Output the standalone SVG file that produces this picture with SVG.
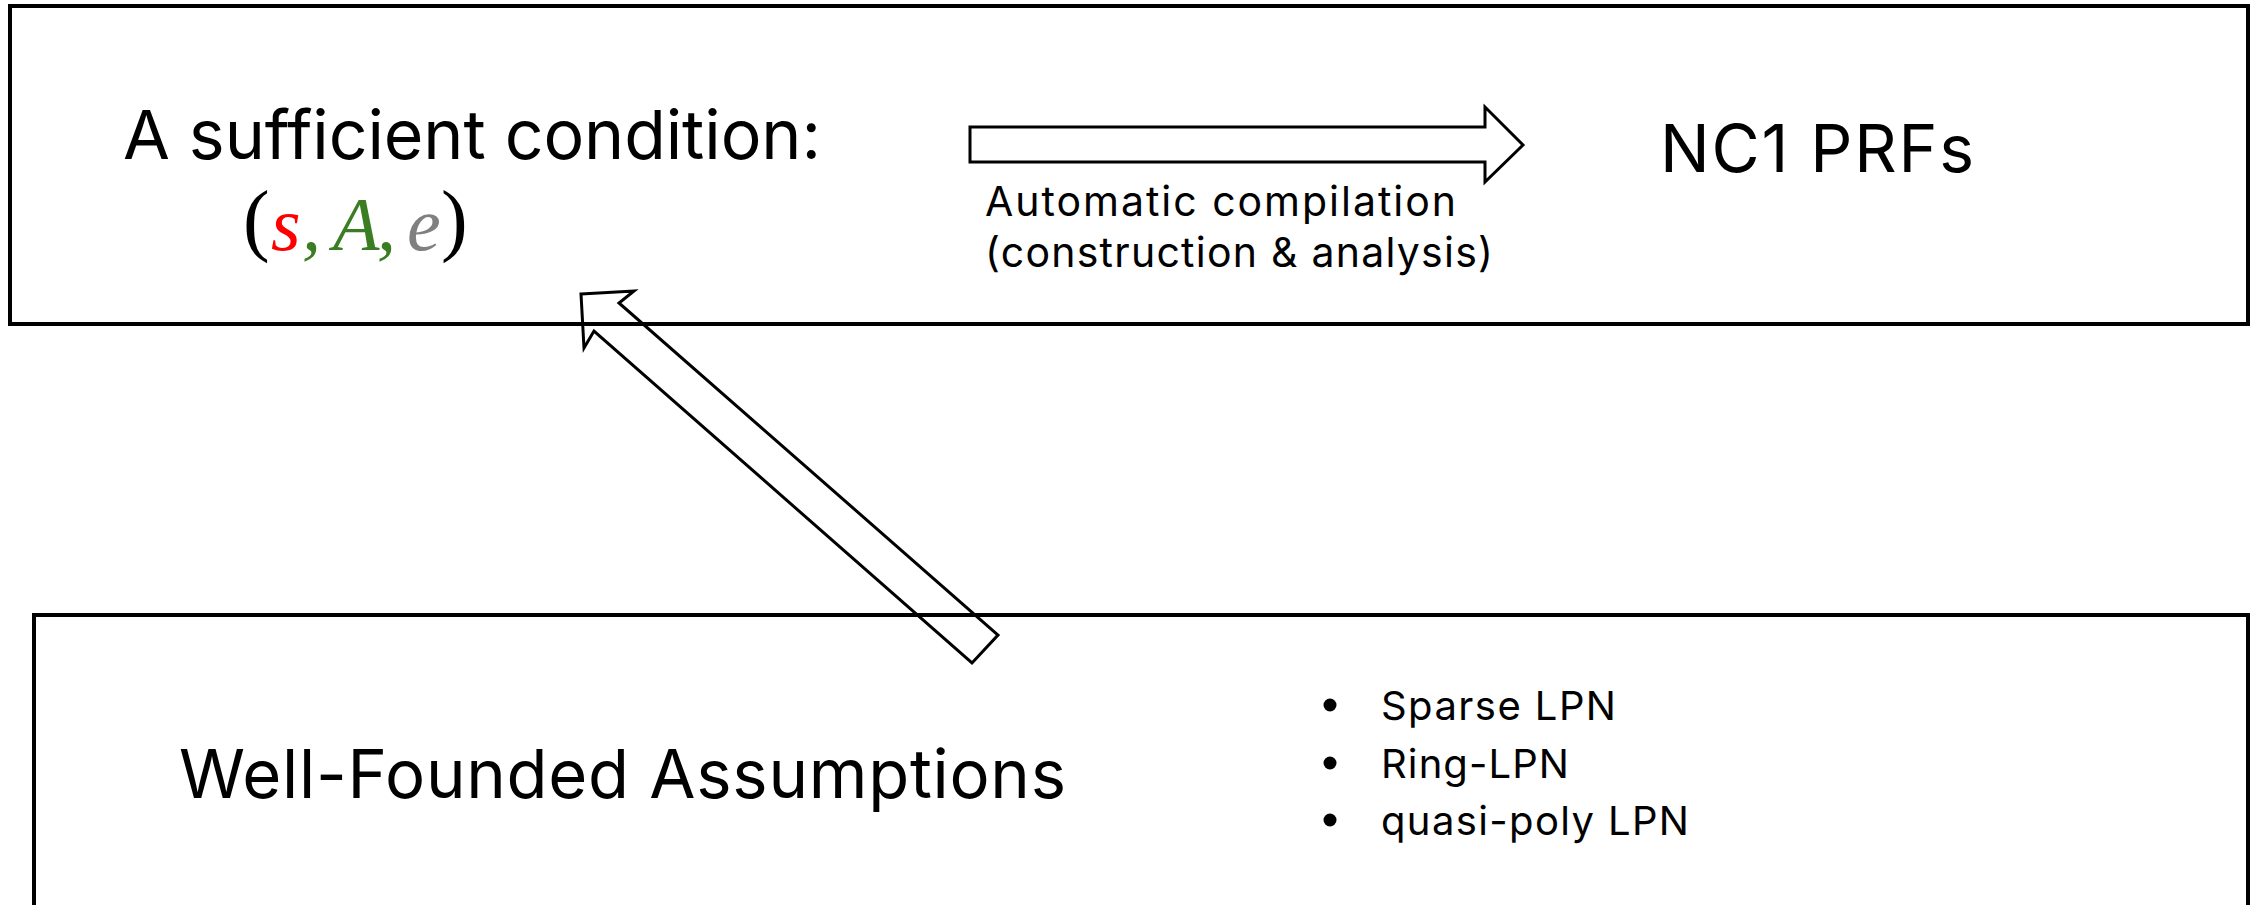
<svg xmlns="http://www.w3.org/2000/svg" width="2261" height="905" viewBox="0 0 2261 905">
<style>
.box{fill:none;stroke:#000;stroke-width:4}
.arr{stroke:#000;stroke-width:3;stroke-linejoin:miter}
.t{font-family:Inter,"Open Sans","Liberation Sans",sans-serif;fill:#000}
.m{font-family:"Liberation Serif",serif;font-style:italic;font-size:76px}
.p{font-family:"Liberation Serif",serif;font-size:80px;fill:#000}
.b{fill:#000}
</style>
<rect width="2261" height="905" fill="#fff"/>
<g id="node-condition">
<rect class="box" x="10" y="6" width="2238" height="318"/>
<text class="t" x="123" y="159" font-size="68" textLength="698">A sufficient condition:</text>
<text class="p" x="243" y="246">(</text>
<text class="m" x="271" y="250" fill="#FF0000">s</text>
<text class="m" x="302" y="250" fill="#3A7D22">,</text>
<text class="m" x="333" y="250" fill="#3A7D22">A</text>
<text class="m" x="377" y="250" fill="#3A7D22">,</text>
<text class="m" x="407" y="250" fill="#808080">e</text>
<text class="p" x="441" y="246">)</text>
</g>
<g id="node-prfs">
<text class="t" x="1660" y="172" font-size="66" textLength="314">NC1 PRFs</text>
</g>
<g id="node-assumptions">
<rect class="box" x="34" y="615" width="2214" height="400"/>
<text class="t" x="179" y="798" font-size="67" textLength="887">Well-Founded Assumptions</text>
<circle class="b" cx="1330" cy="705" r="6.5"/>
<text class="t" x="1381" y="720" font-size="40" textLength="235">Sparse LPN</text>
<circle class="b" cx="1330" cy="763" r="6.5"/>
<text class="t" x="1381" y="778" font-size="40" textLength="188">Ring-LPN</text>
<circle class="b" cx="1330" cy="820" r="6.5"/>
<text class="t" x="1381" y="835" font-size="40" textLength="308">quasi-poly LPN</text>
</g>
<g id="connectors">
<polygon class="arr" fill="#fff" points="970,127 1485,127 1485,107 1523,145 1485,182 1485,162 970,162"/>
<text class="t" x="985" y="216" font-size="41" textLength="471">Automatic compilation</text>
<text class="t" x="985" y="267" font-size="41" textLength="508">(construction &amp; analysis)</text>
<polygon class="arr" fill="none" points="581,294 634,291 619,303 998,635 972,663 594,331 584,348"/>
</g>
</svg>
